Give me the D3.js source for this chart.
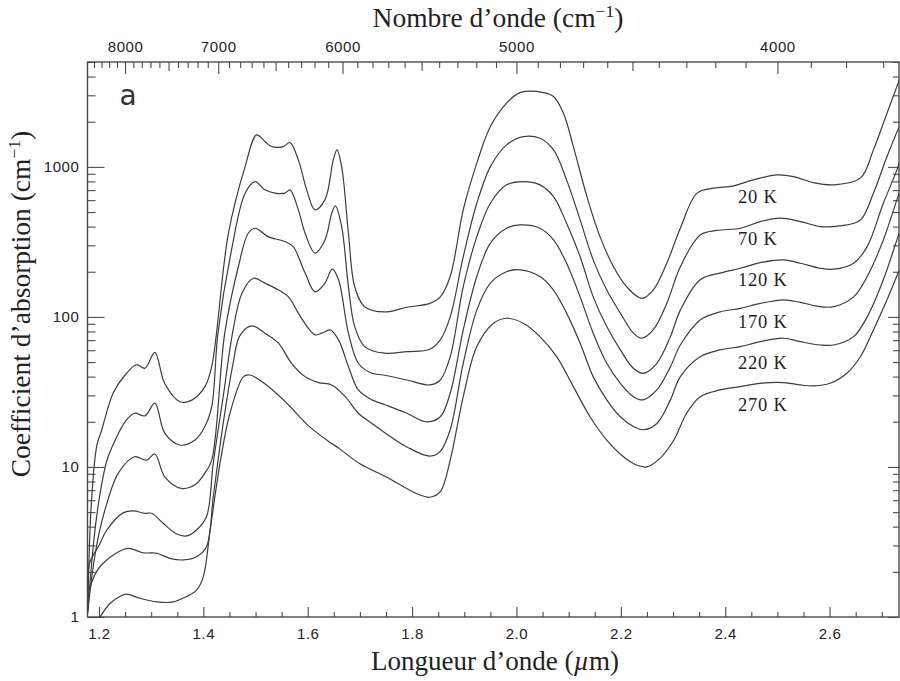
<!DOCTYPE html>
<html>
<head>
<meta charset="utf-8">
<script src="https://cdn.jsdelivr.net/npm/d3@7"></script>
<style>
  html, body { margin: 0; padding: 0; background: #fff; }
  svg { display: block; }
</style>
</head>
<body>
<svg id="chart" width="900" height="681"></svg>
<script>
// ---------------- DATA ----------------
// temperature labels of the six spectra
const temperatures = ["20 K", "70 K", "120 K", "170 K", "220 K", "270 K"];
// bottom axis tick labels (wavelength, µm)
const wavelengthTicks = [1.2, 1.4, 1.6, 1.8, 2.0, 2.2, 2.4, 2.6];
// top axis tick labels (wavenumber, cm^-1)
const wavenumberTicks = [8000, 7000, 6000, 5000, 4000];
// left axis tick labels
const absorptionTicks = [1, 10, 100, 1000];

// spectra: [wavelength µm, absorption coefficient cm^-1]
const spectrum20K = [
  [1.1785,1.05],[1.185,5.5],[1.196,14],[1.205,17.5],[1.227,31],[1.25,41],[1.272,48],[1.288,45.5],
  [1.307,58],[1.326,36],[1.355,27.2],[1.378,27.9],[1.403,34.3],[1.416,46.6],[1.448,361],[1.48,1004],
  [1.502,1634],[1.518,1475],[1.531,1366],[1.553,1366],[1.566,1452],[1.582,1113],[1.598,703],[1.614,517],
  [1.633,603],[1.649,1113],[1.656,1298],[1.665,1004],[1.678,361],[1.69,159],[1.709,117],[1.747,108],
  [1.79,116],[1.834,123],[1.854,136],[1.873,186],[1.898,517],[1.924,1059],[1.95,1857],[1.981,2660],
  [2.007,3127],[2.052,3127],[2.071,2944],[2.09,2280],[2.109,1366],[2.135,634],[2.16,343],[2.186,216],
  [2.211,159],[2.24,133],[2.262,151],[2.288,228],[2.314,390],[2.346,668],[2.378,721],[2.416,747],
  [2.454,819],[2.499,884],[2.531,862],[2.569,785],[2.608,759],[2.659,841],[2.684,1298],[2.71,2280],[2.736,4000]
];
const spectrum70K = [
  [1.1785,1.1],[1.19,3.2],[1.2,6.0],[1.215,11],[1.231,15.1],[1.25,20],[1.268,22.8],[1.288,21.9],
  [1.307,26.6],[1.326,16.8],[1.355,14.0],[1.384,15.1],[1.403,18.6],[1.416,25.2],[1.428,77.9],[1.454,280],
  [1.48,668],[1.499,798],[1.518,703],[1.537,668],[1.556,668],[1.566,703],[1.582,517],[1.595,361],
  [1.614,266],[1.633,326],[1.646,491],[1.653,549],[1.665,400],[1.678,159],[1.69,86.2],[1.709,63.4],
  [1.747,57.3],[1.79,58.7],[1.834,60.9],[1.854,70.3],[1.873,100],[1.898,252],[1.924,572],[1.95,1004],
  [1.981,1402],[2.013,1592],[2.045,1552],[2.071,1298],[2.096,819],[2.122,443],[2.147,240],[2.173,151],
  [2.199,106],[2.224,77.9],[2.24,72.1],[2.262,81.9],[2.288,123],[2.314,216],[2.352,352],[2.384,377],
  [2.429,390],[2.467,432],[2.505,455],[2.544,432],[2.582,400],[2.62,404],[2.659,443],[2.684,668],
  [2.71,1172],[2.736,1955]
];
const spectrum120K = [
  [1.1785,1.1],[1.19,2.3],[1.2,3.6],[1.215,5.7],[1.237,9.1],[1.268,11.7],[1.291,11.1],[1.307,12.2],
  [1.326,8.6],[1.358,7.2],[1.384,7.6],[1.403,9.1],[1.416,11.1],[1.441,77.9],[1.467,216],[1.486,361],
  [1.499,390],[1.524,343],[1.556,318],[1.572,294],[1.595,196],[1.614,147],[1.633,168],[1.647,208],
  [1.659,177],[1.678,77.9],[1.697,49.1],[1.723,42.1],[1.745,41],[1.79,38],[1.834,35.2],[1.854,38],
  [1.873,54.3],[1.898,159],[1.924,343],[1.95,572],[1.981,759],[2.013,798],[2.045,759],[2.071,634],
  [2.096,421],[2.122,252],[2.147,136],[2.173,86.2],[2.199,60.3],[2.224,45.5],[2.243,42.1],[2.269,49.1],
  [2.295,73.9],[2.314,111],[2.352,177],[2.39,196],[2.429,211],[2.467,230],[2.512,240],[2.544,228],
  [2.582,211],[2.608,208],[2.646,228],[2.672,294],[2.703,572],[2.729,955],[2.74,1250]
];
const spectrum170K = [
  [1.1785,1.5],[1.182,2.28],[1.2,3.0],[1.215,3.8],[1.247,4.96],[1.266,5.09],[1.288,4.91],[1.301,4.91],
  [1.323,4.21],[1.349,3.57],[1.368,3.47],[1.387,3.8],[1.406,4.66],[1.419,10.6],[1.438,29.4],[1.457,81.9],
  [1.474,144],[1.496,181],[1.518,168],[1.544,151],[1.563,136],[1.582,106],[1.601,84.1],[1.614,75.9],
  [1.627,77.9],[1.643,81.9],[1.659,70.3],[1.678,46.6],[1.697,32.6],[1.723,28],[1.749,25.9],[1.79,22.8],
  [1.828,20],[1.854,21.6],[1.873,31],[1.898,81.9],[1.924,186],[1.95,310],[1.981,390],[2.007,410],
  [2.045,390],[2.071,326],[2.096,228],[2.122,136],[2.147,77.9],[2.173,49.1],[2.199,36.1],[2.224,29.4],
  [2.243,28],[2.269,32.6],[2.295,46.6],[2.314,65],[2.352,95.5],[2.39,108],[2.429,114],[2.467,123],
  [2.512,130],[2.544,125],[2.582,117],[2.608,117],[2.646,136],[2.672,186],[2.703,326],[2.729,603],[2.74,780]
];
const spectrum220K = [
  [1.1785,1.15],[1.182,1.51],[1.195,2.0],[1.208,2.28],[1.234,2.68],[1.256,2.87],[1.285,2.68],[1.311,2.66],
  [1.336,2.46],[1.362,2.4],[1.387,2.52],[1.406,2.94],[1.419,6.34],[1.438,19.5],[1.457,49.1],[1.47,75],
  [1.493,87.1],[1.518,77.9],[1.544,66.8],[1.569,49.1],[1.595,40],[1.621,36.5],[1.646,35.2],[1.672,29.4],
  [1.697,22.8],[1.723,19.5],[1.749,16.8],[1.79,13.6],[1.834,11.8],[1.854,12.7],[1.873,17.7],[1.898,49.1],
  [1.924,111],[1.95,168],[1.981,200],[2.007,206],[2.045,186],[2.071,151],[2.096,106],[2.122,66.8],
  [2.147,40],[2.173,28],[2.199,21.6],[2.224,18.6],[2.243,17.7],[2.269,19.5],[2.295,28],[2.314,40],
  [2.352,54.3],[2.39,60.3],[2.429,63.4],[2.467,68.4],[2.512,72.1],[2.544,68.4],[2.582,65],[2.608,65],
  [2.646,73.9],[2.672,100],[2.703,177],[2.729,326],[2.74,420]
];
const spectrum270K = [
  [1.202,1.0],[1.221,1.23],[1.24,1.37],[1.253,1.42],[1.279,1.33],[1.311,1.26],[1.342,1.26],[1.368,1.37],
  [1.387,1.51],[1.4,1.86],[1.413,3.8],[1.432,10.6],[1.451,22.8],[1.477,40],[1.489,41],[1.521,35.2],
  [1.56,26.6],[1.6,19],[1.64,14.8],[1.66,13.3],[1.7,10.5],[1.75,8.6],[1.777,7.6],[1.815,6.5],
  [1.834,6.28],[1.854,6.84],[1.873,11.1],[1.898,29.4],[1.924,63.4],[1.956,90.8],[1.981,98],[2.013,90.8],
  [2.045,73.9],[2.077,54.3],[2.109,34.3],[2.141,21.6],[2.173,15.1],[2.205,11.7],[2.23,10.3],[2.25,10],
  [2.275,11.4],[2.301,15],[2.326,22.8],[2.352,29.4],[2.39,32.6],[2.429,34.3],[2.467,36.1],[2.512,36.5],
  [2.544,35.2],[2.569,34.7],[2.601,36.1],[2.633,42.1],[2.659,54.3],[2.684,81.9],[2.71,130],[2.736,216]
];
const spectra = [spectrum20K, spectrum70K, spectrum120K, spectrum170K, spectrum220K, spectrum270K];

// ---------------- LAYOUT ----------------
const X0 = 87.5, X1 = 899, Y0 = 62, Y1 = 617;
const svg = d3.select("#chart");

const x = d3.scaleLinear().domain([1.178, 2.733]).range([X0, X1]);
const y = d3.scaleLog().domain([1, 5000]).range([Y1, Y0]);

const axisColor = "#4a4a4a";
const sansFont = "'Liberation Sans', Arial, sans-serif";
const serifFont = "'Liberation Serif', 'Times New Roman', serif";

function styleAxis(g) {
  g.select(".domain").remove();
  g.selectAll(".tick line").attr("stroke", axisColor).attr("stroke-width", 1.1);
  g.selectAll(".tick text").attr("font-family", sansFont).attr("font-size", 15)
    .attr("letter-spacing", 0.6).attr("fill", "#222");
}

// minor ticks
const minorWl = d3.range(1.2, 2.7501, 0.05).map(v => +v.toFixed(2)).filter(v => !wavelengthTicks.includes(v));
const minorAbs = [];
[1, 10, 100, 1000].forEach(d => { for (let m = 2; m <= 9; m++) if (d * m <= 5000) minorAbs.push(d * m); });
const allK = d3.range(3700, 8500, 100).filter(k => x(1e4 / k) <= X1 && x(1e4 / k) >= X0);
const halfK = allK.filter(k => k % 500 === 0 && k % 1000 !== 0);
const smallK = allK.filter(k => k % 500 !== 0);

// bottom axis (ticks inward)
svg.append("g").attr("transform", `translate(0,${Y1})`)
  .call(d3.axisBottom(x).tickValues(wavelengthTicks).tickSize(-10).tickPadding(11).tickFormat(d3.format(".1f")))
  .call(styleAxis);
svg.append("g").attr("transform", `translate(0,${Y1})`)
  .call(d3.axisBottom(x).tickValues(minorWl).tickSize(-5).tickFormat(""))
  .call(styleAxis);

// left axis
svg.append("g").attr("transform", `translate(${X0},0)`)
  .call(d3.axisLeft(y).tickValues(absorptionTicks).tickSize(-17).tickPadding(8).tickFormat(d3.format("d")))
  .call(styleAxis);
svg.append("g").attr("transform", `translate(${X0},0)`)
  .call(d3.axisLeft(y).tickValues(minorAbs).tickSize(-8).tickFormat(""))
  .call(styleAxis);

// right axis
svg.append("g").attr("transform", `translate(${X1},0)`)
  .call(d3.axisRight(y).tickValues(absorptionTicks).tickSize(-11).tickFormat(""))
  .call(styleAxis);
svg.append("g").attr("transform", `translate(${X1},0)`)
  .call(d3.axisRight(y).tickValues(minorAbs).tickSize(-6).tickFormat(""))
  .call(styleAxis);

// top axis (wavenumber): positions through wavelength = 1e4 / k
svg.append("g").attr("transform", `translate(0,${Y0})`)
  .call(d3.axisTop(x).tickValues(wavenumberTicks.map(k => 1e4 / k)).tickSize(-12).tickPadding(10)
    .tickFormat((d, i) => wavenumberTicks[i]))
  .call(styleAxis);
svg.append("g").attr("transform", `translate(0,${Y0})`)
  .call(d3.axisTop(x).tickValues(halfK.map(k => 1e4 / k)).tickSize(-9).tickFormat(""))
  .call(styleAxis);
svg.append("g").attr("transform", `translate(0,${Y0})`)
  .call(d3.axisTop(x).tickValues(smallK.map(k => 1e4 / k)).tickSize(-6).tickFormat(""))
  .call(styleAxis);

// frame
svg.append("rect").attr("x", X0).attr("y", Y0).attr("width", X1 - X0).attr("height", Y1 - Y0)
  .attr("fill", "none").attr("stroke", axisColor).attr("stroke-width", 1.4);

// clip
svg.append("clipPath").attr("id", "plotclip").append("rect")
  .attr("x", X0).attr("y", Y0).attr("width", X1 - X0).attr("height", Y1 - Y0);

const line = d3.line().x(d => x(d[0])).y(d => y(d[1])).curve(d3.curveCatmullRom.alpha(0.5));
svg.append("g").attr("clip-path", "url(#plotclip)")
  .selectAll("path").data(spectra).join("path")
  .attr("d", line).attr("fill", "none").attr("stroke", "#3c3c3c").attr("stroke-width", 1.2)
  .attr("stroke-linejoin", "round");

// temperature labels
svg.append("g").selectAll("text").data(temperatures).join("text")
  .attr("x", 738).attr("y", (d, i) => 203 + i * 41.6)
  .attr("font-family", serifFont).attr("font-size", 18.5).attr("letter-spacing", 0.8).attr("fill", "#222")
  .text(d => d);

// panel label
svg.append("text").attr("x", 128).attr("y", 105).attr("text-anchor", "middle")
  .attr("font-family", "'DejaVu Sans', sans-serif").attr("font-size", 28)
  .attr("fill", "#333").text("a");

// titles
const titleSize = 27.5;
const topTitle = svg.append("text").attr("x", 498).attr("y", 27).attr("text-anchor", "middle")
  .attr("font-family", serifFont).attr("font-size", titleSize).attr("fill", "#222");
topTitle.append("tspan").text("Nombre d’onde (cm");
topTitle.append("tspan").attr("font-size", 17.5).attr("dy", -10).text("−1");
topTitle.append("tspan").attr("dy", 10).text(")");

const botTitle = svg.append("text").attr("x", 495).attr("y", 670).attr("text-anchor", "middle")
  .attr("font-family", serifFont).attr("font-size", 27).attr("fill", "#222");
botTitle.append("tspan").text("Longueur d’onde (");
botTitle.append("tspan").attr("font-style", "italic").text("µ");
botTitle.append("tspan").text("m)");

const yTitle = svg.append("text").attr("transform", "translate(30,304) rotate(-90)").attr("text-anchor", "middle")
  .attr("font-family", serifFont).attr("font-size", titleSize).attr("fill", "#222");
yTitle.append("tspan").text("Coefficient d’absorption (cm");
yTitle.append("tspan").attr("font-size", 17.5).attr("dy", -10).text("−1");
yTitle.append("tspan").attr("dy", 10).text(")");
</script>
</body>
</html>
